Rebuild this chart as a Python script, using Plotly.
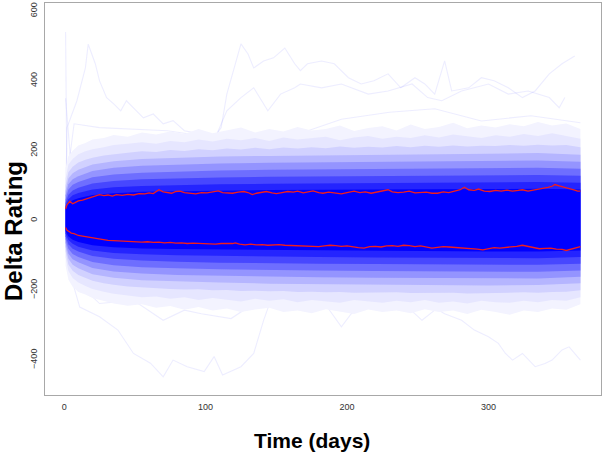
import plotly.graph_objects as go

# ---------------- data ----------------
band_days = [1, 3, 6, 10, 20, 35, 55, 80, 110, 145, 180, 220, 260, 300, 335, 365]
fringe_days = [1, 3, 6, 10, 15, 20, 28, 35, 45, 55, 65, 75, 85, 95, 105, 115, 125, 135, 145,
               155, 165, 175, 185, 195, 205, 215, 225, 235, 245, 255, 265, 275, 285, 295, 305,
               315, 325, 335, 345, 355, 365]

# density envelopes, from the faintest (outer) to the fully saturated core
l9_up = [150, 185, 200, 215, 222, 232, 236, 245, 240, 252, 246, 255, 248, 262, 250, 258, 266,
         252, 262, 255, 268, 258, 262, 272, 256, 265, 270, 258, 275, 262, 268, 280, 264, 272,
         266, 276, 270, 282, 272, 278, 262]
l9_lo = [-130, -170, -190, -205, -212, -222, -230, -238, -244, -240, -250, -245, -256, -248,
         -258, -252, -262, -255, -250, -262, -258, -266, -254, -260, -268, -255, -262, -258,
         -266, -254, -262, -258, -268, -256, -262, -270, -258, -262, -252, -256, -240]
l8_up = [120, 160, 176, 190, 198, 204, 210, 216, 220, 224, 220, 228, 224, 232, 226, 234, 230,
         236, 228, 238, 232, 236, 240, 230, 238, 242, 234, 240, 236, 244, 238, 246, 240, 236,
         244, 240, 248, 242, 250, 242, 234]
l8_lo = [-105, -145, -165, -178, -188, -196, -204, -210, -216, -220, -218, -224, -220, -228,
         -222, -226, -232, -224, -230, -226, -234, -228, -232, -236, -228, -232, -236, -230,
         -234, -228, -236, -232, -238, -230, -234, -236, -230, -234, -228, -230, -220]
l7_up = [100, 138, 154, 166, 174, 180, 186, 190, 194, 198, 196, 202, 199, 204, 201, 206, 203,
         208, 204, 209, 206, 210, 207, 212, 208, 211, 209, 213, 210, 214, 211, 215, 212, 214,
         213, 216, 214, 217, 215, 216, 210]
l7_lo = [-88, -126, -144, -156, -165, -173, -180, -184, -189, -192, -194, -196, -198, -197,
         -200, -199, -202, -201, -203, -202, -205, -204, -206, -205, -207, -206, -207, -206,
         -208, -207, -208, -207, -209, -208, -208, -207, -206, -207, -205, -204, -200]
l6_up = [85, 120, 135, 145, 160, 170, 176, 180, 183, 185, 186, 188, 190, 191, 193, 188]
l6_lo = [-75, -110, -127, -137, -154, -164, -171, -175, -178, -181, -182, -184, -185, -186, -185, -180]
l5_up = [72, 104, 118, 127, 142, 151, 157, 160, 163, 165, 166, 168, 169, 170, 172, 168]
l5_lo = [-64, -95, -111, -120, -136, -146, -152, -156, -159, -161, -163, -164, -165, -166, -166, -161]
l4_up = [60, 89, 102, 110, 124, 132, 137, 140, 143, 145, 146, 147, 148, 149, 151, 148]
l4_lo = [-54, -81, -96, -105, -119, -128, -134, -137, -140, -142, -143, -145, -146, -147, -147, -143]
l3_up = [50, 74, 86, 94, 106, 113, 118, 121, 123, 125, 126, 127, 128, 129, 130, 128]
l3_lo = [-45, -68, -81, -89, -102, -110, -115, -118, -121, -123, -124, -125, -126, -127, -127, -124]
l2_up = [42, 61, 72, 79, 89, 95, 99, 102, 104, 105, 106, 107, 108, 109, 110, 108]
l2_lo = [-37, -56, -67, -75, -86, -93, -97, -100, -102, -104, -105, -106, -107, -108, -108, -105]
l1_up = [34, 50, 58, 64, 73, 78, 82, 84, 86, 87, 88, 88, 89, 90, 91, 89]
l1_lo = [-30, -46, -55, -62, -71, -77, -80, -82, -84, -85, -86, -87, -88, -89, -89, -86]

# red upper / lower quantile lines
red_up_days = [1, 2, 4, 6, 8, 10, 13, 16, 19, 22, 25, 28, 31, 34, 37, 41, 45, 49, 53, 57, 60,
               63, 66, 67, 70, 73, 76, 79, 82, 85, 89, 93, 97, 101, 105, 109, 112, 116, 119,
               123, 127, 130, 133, 136, 140, 143, 147, 150, 154, 158, 162, 165, 169, 172, 176,
               180, 183, 187, 191, 196, 200, 205, 209, 213, 217, 221, 225, 229, 232, 236, 240,
               244, 248, 252, 256, 260, 264, 268, 272, 276, 280, 283, 286, 290, 293, 297, 301,
               305, 309, 313, 317, 321, 324, 328, 332, 336, 339, 342, 345, 347, 350, 354, 358,
               361, 363, 365]
red_up_vals = [33, 45, 55, 48, 52, 56, 58, 62, 66, 70, 74, 71, 73, 70, 74, 72, 75, 73, 77, 76,
               79, 77, 84, 88, 82, 80, 78, 83, 84, 80, 78, 76, 80, 79, 82, 85, 80, 79, 78, 81,
               83, 80, 74, 78, 80, 83, 79, 77, 80, 83, 81, 84, 79, 82, 85, 80, 78, 81, 79, 76,
               80, 84, 80, 82, 78, 81, 83, 88, 82, 80, 81, 84, 79, 79, 81, 78, 78, 82, 80, 84,
               88, 95, 88, 86, 90, 84, 83, 86, 84, 87, 84, 86, 88, 84, 87, 89, 92, 95, 98, 103,
               99, 95, 92, 87, 84, 84]
red_lo_days = [1, 2, 4, 5, 7, 10, 13, 17, 20, 24, 27, 31, 35, 39, 43, 47, 51, 55, 59, 63, 67,
               71, 75, 79, 83, 87, 91, 95, 99, 103, 107, 111, 115, 119, 121, 124, 128, 132,
               136, 140, 144, 148, 152, 156, 160, 164, 168, 172, 176, 180, 184, 188, 192, 196,
               200, 204, 208, 212, 216, 220, 224, 228, 232, 236, 240, 244, 248, 252, 256, 260,
               264, 268, 272, 276, 280, 284, 288, 292, 296, 300, 304, 308, 312, 316, 320, 324,
               328, 332, 336, 340, 344, 348, 352, 355, 358, 361, 363, 365]
red_lo_vals = [-20, -28, -33, -36, -38, -43, -45, -48, -50, -53, -56, -57, -58, -59, -60, -59,
               -61, -62, -61, -63, -62, -64, -63, -65, -64, -66, -65, -66, -67, -66, -68, -66,
               -67, -66, -64, -68, -70, -68, -70, -69, -71, -70, -69, -71, -72, -73, -74, -75,
               -74, -75, -73, -71, -72, -74, -73, -76, -78, -79, -75, -74, -76, -73, -72, -74,
               -71, -72, -75, -73, -76, -79, -77, -75, -76, -77, -79, -78, -81, -82, -84, -80,
               -78, -79, -78, -76, -74, -71, -75, -78, -81, -80, -79, -82, -83, -86, -83, -79,
               -76, -75]

# individual stray trajectories visible outside the dense band
stray_a_days = [1, 2, 9, 15, 17, 22, 25, 30, 35, 40, 44, 49, 56, 63, 70, 77, 85, 96]
stray_a_vals = [40, 266, 343, 437, 505, 449, 400, 352, 334, 314, 343, 323, 294, 305, 277, 286, 257, 248]
stray_b_days = [100, 111, 115, 120, 125, 130, 134, 141, 148, 156, 163, 167, 172, 182, 191, 201,
                210, 219, 229, 238, 248, 255, 262, 269, 274, 286, 295, 304, 314, 324, 333, 343,
                352, 361]
stray_b_vals = [200, 266, 362, 437, 506, 477, 437, 457, 466, 494, 449, 429, 449, 457, 449, 409,
                391, 400, 420, 380, 409, 391, 362, 457, 371, 380, 409, 400, 380, 352, 371, 420,
                449, 471]
stray_c_days = [105, 115, 125, 134, 144, 153, 163, 167, 182, 196, 215, 229, 246, 257, 267, 281,
                300, 314, 328, 343, 350, 354]
stray_c_vals = [220, 314, 352, 380, 314, 362, 380, 391, 380, 391, 362, 371, 391, 352, 343, 371,
                391, 362, 371, 352, 323, 352]
stray_d_days = [2, 7, 25, 73, 120, 160, 196, 230, 262, 295, 330, 365]
stray_d_vals = [120, 277, 266, 257, 229, 240, 290, 310, 320, 285, 300, 280]
stray_e_days = [1, 2]
stray_e_vals = [540, 80]
stray_f_days = [1, 4, 11, 25, 38, 49, 61, 70, 77, 87, 99, 106, 112, 125, 134, 141, 146, 152]
stray_f_vals = [-30, -150, -248, -276, -314, -381, -409, -448, -400, -419, -433, -390, -443,
                -419, -381, -286, -229, -180]
stray_g_days = [10, 25, 49, 70, 85, 97, 118, 134, 150]
stray_g_vals = [-180, -238, -229, -286, -257, -267, -281, -238, -200]
stray_h_days = [245, 257, 269, 281, 290, 300, 307, 312, 317, 324, 333, 340, 345, 352, 357, 365]
stray_h_vals = [-200, -238, -267, -286, -314, -333, -352, -381, -400, -381, -419, -410, -400,
                -371, -362, -400]
stray_i_days = [175, 186, 196, 203, 215, 225]
stray_i_vals = [-200, -248, -305, -267, -238, -210]
stray_j_days = [235, 243, 253, 262, 272]
stray_j_vals = [-210, -248, -286, -257, -220]
stray_k_days = [1, 2, 3, 5]
stray_k_vals = [350, 300, 230, 150]

x_ticks = [0, 100, 200, 300]
y_ticks = [-400, -200, 0, 200, 400, 600]

# ---------------- figure ----------------
fig = go.Figure()

stray_color = "rgba(60,60,255,0.09)"
for dx, vy in [(stray_a_days, stray_a_vals), (stray_b_days, stray_b_vals),
               (stray_c_days, stray_c_vals), (stray_d_days, stray_d_vals),
               (stray_e_days, stray_e_vals), (stray_f_days, stray_f_vals),
               (stray_g_days, stray_g_vals), (stray_h_days, stray_h_vals),
               (stray_i_days, stray_i_vals), (stray_j_days, stray_j_vals),
               (stray_k_days, stray_k_vals)]:
    fig.add_trace(go.Scatter(x=dx, y=vy, mode="lines",
                             line=dict(color=stray_color, width=1.1),
                             hoverinfo="skip", showlegend=False))

bands = [
    (fringe_days, l9_up, l9_lo, "rgb(243,243,255)"),
    (fringe_days, l8_up, l8_lo, "rgb(230,230,255)"),
    (fringe_days, l7_up, l7_lo, "rgb(209,209,255)"),
    (band_days, l6_up, l6_lo, "rgb(181,181,255)"),
    (band_days, l5_up, l5_lo, "rgb(148,148,255)"),
    (band_days, l4_up, l4_lo, "rgb(110,110,255)"),
    (band_days, l3_up, l3_lo, "rgb(71,71,255)"),
    (band_days, l2_up, l2_lo, "rgb(36,36,255)"),
    (band_days, l1_up, l1_lo, "rgb(0,0,255)"),
]
for days, up, lo, col in bands:
    fig.add_trace(go.Scatter(
        x=days + days[::-1],
        y=up + lo[::-1],
        mode="lines", fill="toself", fillcolor=col,
        line=dict(width=0, color=col),
        hoverinfo="skip", showlegend=False))

for dx, vy in [(red_up_days, red_up_vals), (red_lo_days, red_lo_vals)]:
    fig.add_trace(go.Scatter(x=dx, y=vy, mode="lines",
                             line=dict(color="#f01e1e", width=1.3),
                             hoverinfo="skip", showlegend=False))

axis_common = dict(showgrid=False, zeroline=False, showline=True, mirror=True,
                   linecolor="#a8a8a8", linewidth=1,
                   tickfont=dict(family="Liberation Sans, Arial", size=9, color="#333333"),
                   ticks="outside", ticklen=3, tickcolor="rgba(0,0,0,0)")

fig.update_layout(
    width=603, height=452,
    margin=dict(l=45, r=2, t=3, b=57),
    paper_bgcolor="white", plot_bgcolor="white",
    xaxis=dict(range=[-13.56, 379.56], tickvals=x_ticks, **axis_common),
    yaxis=dict(range=[-500, 623], tickvals=y_ticks, tickangle=-90, **axis_common),
    annotations=[
        dict(text="<b>Delta Rating</b>", xref="paper", yref="paper",
             x=(13 - 45) / 556, y=(395 - 231) / 392, textangle=-90, showarrow=False,
             font=dict(family="Liberation Sans, Arial", size=24, color="black"),
             xanchor="center", yanchor="middle"),
        dict(text="<b>Time (days)</b>", xref="paper", yref="paper",
             x=(312 - 45) / 556, y=(395 - 440) / 392, showarrow=False,
             font=dict(family="Liberation Sans, Arial", size=21, color="black"),
             xanchor="center", yanchor="middle"),
    ],
)

fig.write_html("out.html")
